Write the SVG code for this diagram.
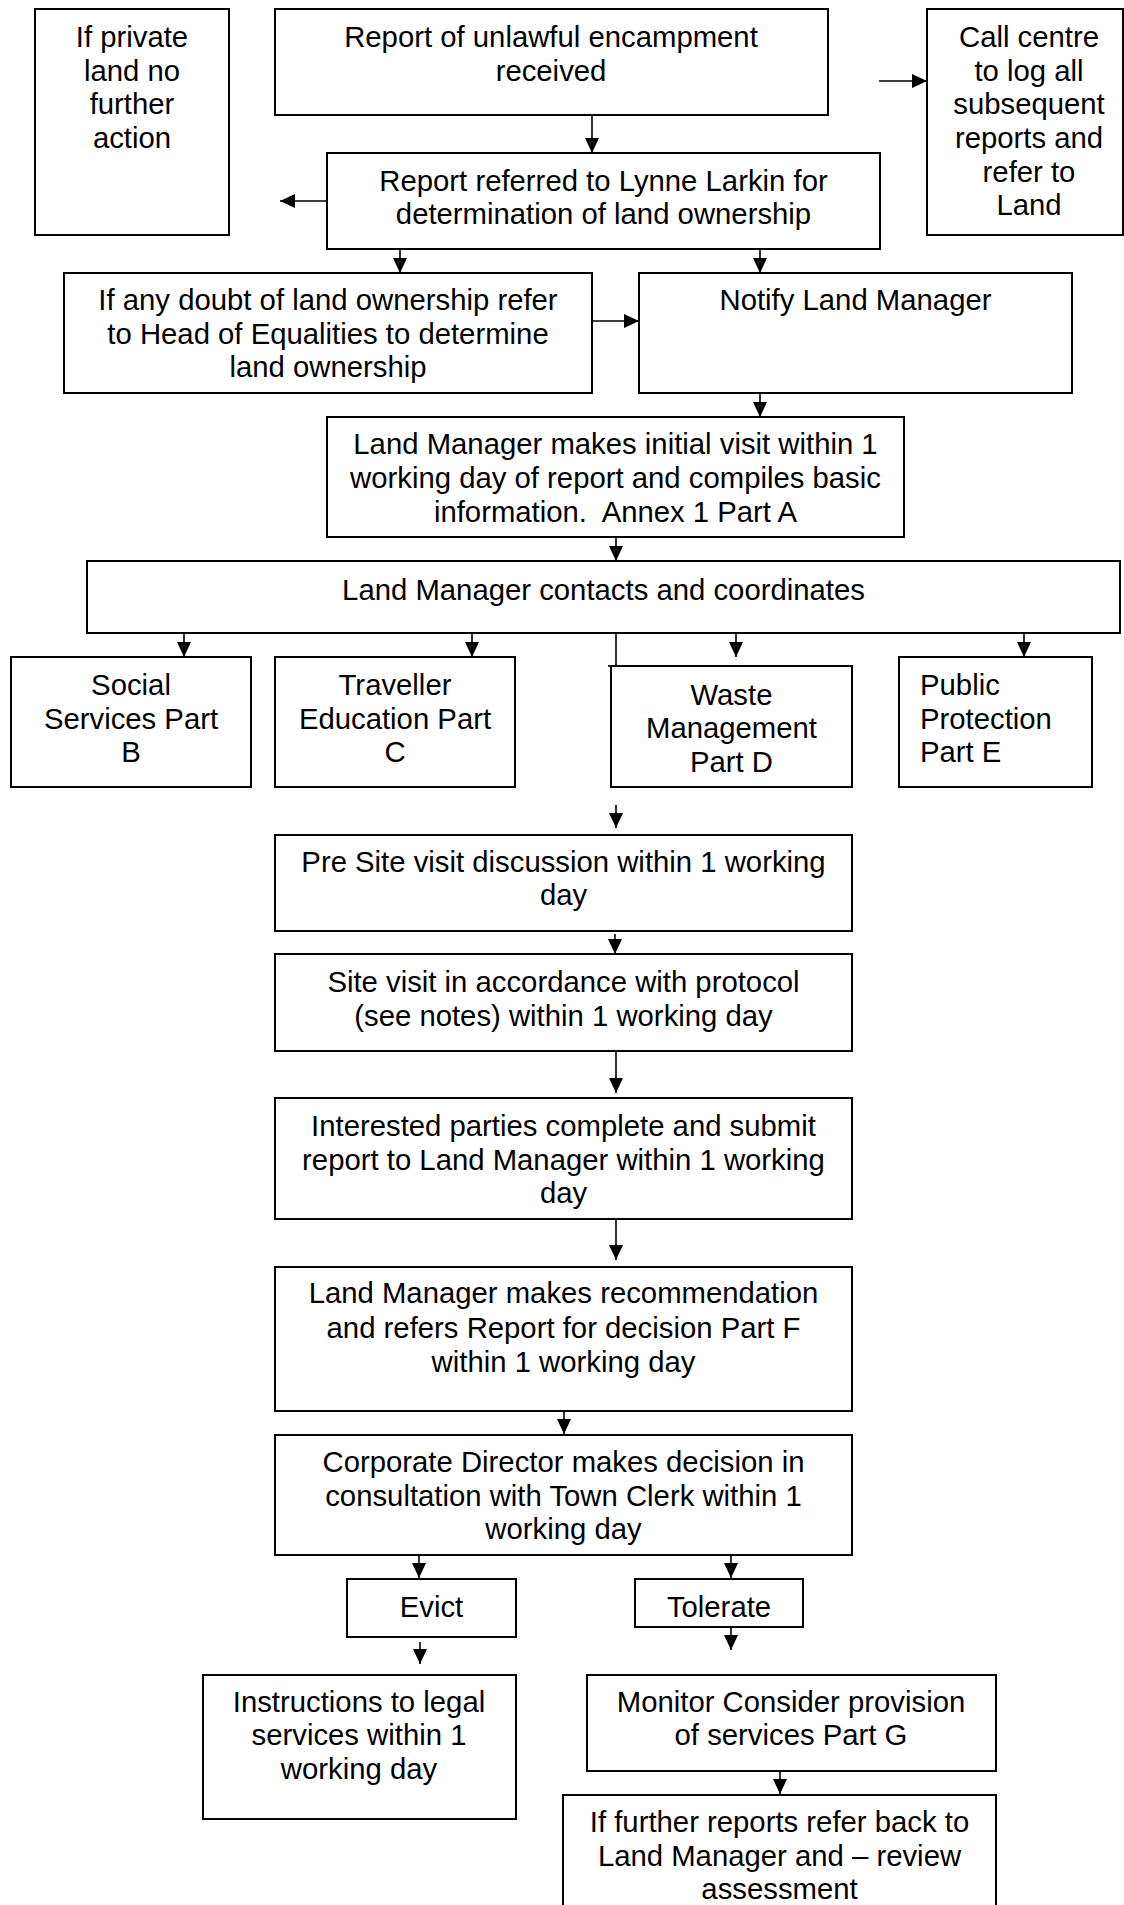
<svg xmlns="http://www.w3.org/2000/svg" width="1124" height="1905" viewBox="0 0 1124 1905">
<defs>
<marker id="ah" markerUnits="userSpaceOnUse" markerWidth="15" markerHeight="14" refX="15" refY="7" orient="auto">
<path d="M0,0 L15,7 L0,14 z" fill="#000"/>
</marker>
<style>
.box{fill:#fff;stroke:#000;stroke-width:2}
.t{font-family:"Liberation Sans",Arial,sans-serif;font-size:29.3px;fill:#000;text-anchor:middle;white-space:pre}
.l{text-anchor:start}
.c{stroke:#000;stroke-width:1.6;fill:none}
.a{stroke:#000;stroke-width:1.6;fill:none;marker-end:url(#ah)}
</style>
</defs>
<rect width="1124" height="1905" fill="#fff"/>

<g id="private">
<rect class="box" x="35" y="9" width="194" height="226"/>
<text class="t" x="132" y="47">If private</text>
<text class="t" x="132" y="81">land no</text>
<text class="t" x="132" y="114">further</text>
<text class="t" x="132" y="148">action</text>
</g>

<g id="report">
<rect class="box" x="275" y="9" width="553" height="106"/>
<text class="t" x="551" y="47">Report of unlawful encampment</text>
<text class="t" x="551" y="81">received</text>
</g>

<g id="callcentre">
<rect class="box" x="927" y="9" width="196" height="226"/>
<text class="t" x="1029" y="47">Call centre</text>
<text class="t" x="1029" y="81">to log all</text>
<text class="t" x="1029" y="114">subsequent</text>
<text class="t" x="1029" y="148">reports and</text>
<text class="t" x="1029" y="182">refer to</text>
<text class="t" x="1029" y="215">Land</text>
</g>

<g id="referred">
<rect class="box" x="327" y="153" width="553" height="96"/>
<text class="t" x="603.5" y="191">Report referred to Lynne Larkin for</text>
<text class="t" x="603.5" y="224">determination of land ownership</text>
</g>

<g id="doubt">
<rect class="box" x="64" y="273" width="528" height="120"/>
<text class="t" x="328" y="310">If any doubt of land ownership refer</text>
<text class="t" x="328" y="344">to Head of Equalities to determine</text>
<text class="t" x="328" y="377">land ownership</text>
</g>

<g id="notify">
<rect class="box" x="639" y="273" width="433" height="120"/>
<text class="t" x="855.5" y="310">Notify Land Manager</text>
</g>

<g id="initial">
<rect class="box" x="327" y="417" width="577" height="120"/>
<text class="t" x="615.5" y="454">Land Manager makes initial visit within 1</text>
<text class="t" x="615.5" y="488">working day of report and compiles basic</text>
<text class="t" x="615.5" y="522" xml:space="preserve">information.  Annex 1 Part A</text>
</g>

<g id="contacts">
<rect class="box" x="87" y="561" width="1033" height="72"/>
<text class="t" x="603.5" y="600">Land Manager contacts and coordinates</text>
</g>

<g id="social">
<rect class="box" x="11" y="657" width="240" height="130"/>
<text class="t" x="131" y="695">Social</text>
<text class="t" x="131" y="729">Services Part</text>
<text class="t" x="131" y="762">B</text>
</g>

<g id="traveller">
<rect class="box" x="275" y="657" width="240" height="130"/>
<text class="t" x="395" y="695">Traveller</text>
<text class="t" x="395" y="729">Education Part</text>
<text class="t" x="395" y="762">C</text>
</g>

<g id="waste">
<rect class="box" x="611" y="666" width="241" height="121"/>
<text class="t" x="731.5" y="705">Waste</text>
<text class="t" x="731.5" y="738">Management</text>
<text class="t" x="731.5" y="772">Part D</text>
</g>

<g id="public">
<rect class="box" x="899" y="657" width="193" height="130"/>
<text class="t l" x="920" y="695">Public</text>
<text class="t l" x="920" y="729">Protection</text>
<text class="t l" x="920" y="762">Part E</text>
</g>

<g id="presite">
<rect class="box" x="275" y="835" width="577" height="96"/>
<text class="t" x="563.5" y="872">Pre Site visit discussion within 1 working</text>
<text class="t" x="563.5" y="905">day</text>
</g>

<g id="sitevisit">
<rect class="box" x="275" y="954" width="577" height="97"/>
<text class="t" x="563.5" y="992">Site visit in accordance with protocol</text>
<text class="t" x="563.5" y="1026">(see notes) within 1 working day</text>
</g>

<g id="interested">
<rect class="box" x="275" y="1098" width="577" height="121"/>
<text class="t" x="563.5" y="1136">Interested parties complete and submit</text>
<text class="t" x="563.5" y="1170">report to Land Manager within 1 working</text>
<text class="t" x="563.5" y="1203">day</text>
</g>

<g id="recommend">
<rect class="box" x="275" y="1267" width="577" height="144"/>
<text class="t" x="563.5" y="1303">Land Manager makes recommendation</text>
<text class="t" x="563.5" y="1338">and refers Report for decision Part F</text>
<text class="t" x="563.5" y="1372">within 1 working day</text>
</g>

<g id="corporate">
<rect class="box" x="275" y="1435" width="577" height="120"/>
<text class="t" x="563.5" y="1472">Corporate Director makes decision in</text>
<text class="t" x="563.5" y="1506">consultation with Town Clerk within 1</text>
<text class="t" x="563.5" y="1539">working day</text>
</g>

<g id="evict">
<rect class="box" x="347" y="1579" width="169" height="58"/>
<text class="t" x="431.5" y="1617">Evict</text>
</g>

<g id="tolerate">
<rect class="box" x="635" y="1579" width="168" height="48"/>
<text class="t" x="719" y="1617">Tolerate</text>
</g>

<g id="legal">
<rect class="box" x="203" y="1675" width="313" height="144"/>
<text class="t" x="359" y="1712">Instructions to legal</text>
<text class="t" x="359" y="1745">services within 1</text>
<text class="t" x="359" y="1779">working day</text>
</g>

<g id="monitor">
<rect class="box" x="587" y="1675" width="409" height="96"/>
<text class="t" x="791" y="1712">Monitor Consider provision</text>
<text class="t" x="791" y="1745">of services Part G</text>
</g>

<g id="further">
<rect class="box" x="563" y="1795" width="433" height="120"/>
<text class="t" x="779.5" y="1832">If further reports refer back to</text>
<text class="t" x="779.5" y="1866">Land Manager and – review</text>
<text class="t" x="779.5" y="1899">assessment</text>
</g>

<g id="connectors">
<line class="a" x1="592" y1="115" x2="592" y2="153"/>
<line class="a" x1="327" y1="201" x2="280" y2="201"/>
<line class="a" x1="879" y1="81" x2="927" y2="81"/>
<line class="a" x1="400" y1="249" x2="400" y2="273"/>
<line class="a" x1="760" y1="249" x2="760" y2="273"/>
<line class="a" x1="592" y1="321" x2="639" y2="321"/>
<line class="a" x1="760" y1="393" x2="760" y2="417"/>
<line class="a" x1="616" y1="537" x2="616" y2="561"/>
<line class="a" x1="184" y1="633" x2="184" y2="657"/>
<line class="a" x1="472" y1="633" x2="472" y2="657"/>
<line class="a" x1="736" y1="633" x2="736" y2="657"/>
<line class="a" x1="1024" y1="633" x2="1024" y2="657"/>
<line class="c" x1="616" y1="633" x2="616" y2="666"/>
<line class="c" x1="608" y1="666" x2="623" y2="666"/>
<line class="a" x1="616" y1="805" x2="616" y2="828"/>
<line class="a" x1="615" y1="934" x2="615" y2="954"/>
<line class="a" x1="616" y1="1051" x2="616" y2="1093"/>
<line class="a" x1="616" y1="1219" x2="616" y2="1260"/>
<line class="a" x1="564" y1="1411" x2="564" y2="1434"/>
<line class="a" x1="419" y1="1555" x2="419" y2="1578"/>
<line class="a" x1="731" y1="1555" x2="731" y2="1578"/>
<line class="a" x1="420" y1="1642" x2="420" y2="1664"/>
<line class="a" x1="731" y1="1627" x2="731" y2="1650"/>
<line class="a" x1="780" y1="1771" x2="780" y2="1794"/>
</g>
</svg>
